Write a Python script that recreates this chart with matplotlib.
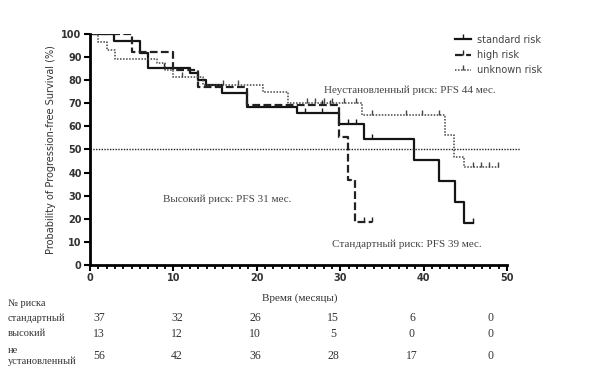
import matplotlib.pyplot as plt
from matplotlib.ticker import MultipleLocator
from matplotlib.lines import Line2D

# step curves (months, % PFS)
std_t = [0, 2.9, 6.0, 6.9, 12.0, 12.9, 13.9, 15.8, 18.8, 24.8, 29.8, 32.8, 38.8, 41.8, 43.8, 44.8, 45.9]
std_y = [100, 97.1, 91.6, 85.4, 83.0, 80.0, 78.0, 74.6, 68.5, 65.7, 61.0, 54.7, 45.5, 36.4, 27.3, 18.3, 18.3]
high_t = [0, 5.0, 9.9, 12.9, 18.8, 29.8, 30.9, 31.8, 33.8]
high_y = [100, 92.3, 84.6, 76.9, 69.2, 55.4, 36.9, 18.5, 18.5]
unk_t = [0, 0.9, 2.0, 3.0, 8.0, 9.0, 9.9, 13.5, 20.8, 23.8, 32.6, 42.6, 43.7, 44.8, 49.0]
unk_y = [100, 96.4, 92.9, 89.3, 87.6, 84.4, 81.2, 77.9, 75.0, 70.3, 65.0, 56.3, 46.9, 42.6, 42.6]

# censor marks
std_ct = [8.9, 25.8, 27.8, 30.9, 31.9, 33.8, 45.9]
std_cy = [85.4, 65.7, 65.7, 61.0, 61.0, 54.7, 18.3]
high_ct = [27.8, 28.8, 32.8, 33.8]
high_cy = [69.2, 69.2, 18.5, 18.5]
unk_ct = [11.0, 16.0, 17.8, 26.0, 27.0, 28.0, 29.0, 30.5, 31.9, 33.8, 37.9, 39.8, 41.9, 45.9, 46.9, 47.9, 48.9]
unk_cy = [81.2, 77.9, 77.9, 70.3, 70.3, 70.3, 70.3, 70.3, 70.3, 65.0, 65.0, 65.0, 65.0, 42.6, 42.6, 42.6, 42.6]

# numbers at risk
row_names = ["стандартный", "высокий", "не\nустановленный"]
risk_std = [37, 32, 26, 15, 6, 0]
risk_high = [13, 12, 10, 5, 0, 0]
risk_unk = [56, 42, 36, 28, 17, 0]

up_tick = [(0, 0), (0, 1)]

fig = plt.figure(figsize=(6.09, 3.76), dpi=100)
ax = fig.add_axes([0.1478, 0.2952, 0.6847, 0.6144])

styles = [
    ('standard risk', std_t, std_y, std_ct, std_cy, '#151515', 1.6, '-'),
    ('high risk', high_t, high_y, high_ct, high_cy, '#222222', 1.6, (0, (3.5, 1.5))),
    ('unknown risk', unk_t, unk_y, unk_ct, unk_cy, '#444444', 1.1, (0, (1, 1))),
]
handles = []
for name, t, y, ct, cy, col, lw, ls in styles:
    ax.step(t, y, where='post', color=col, lw=lw, ls=ls)
    ax.plot(ct, cy, ls='none', marker=up_tick, ms=7, mew=1.0, color=col)
    handles.append(Line2D([], [], color=col, lw=lw, ls=ls, marker=up_tick, ms=7, mew=1.0))

ax.plot([0, 51.6], [50, 50], color='#222222', lw=1.0, ls=(0, (1, 1)), clip_on=False)

ax.set_xlim(0, 50)
ax.set_ylim(0, 100)
ax.xaxis.set_major_locator(MultipleLocator(10))
ax.xaxis.set_minor_locator(MultipleLocator(1))
ax.yaxis.set_major_locator(MultipleLocator(10))
for s in ['top', 'right']:
    ax.spines[s].set_visible(False)
for s in ['left', 'bottom']:
    ax.spines[s].set_linewidth(2)
ax.tick_params(which='major', length=4, width=1.5, labelsize=7, pad=2)
ax.tick_params(which='minor', length=3, width=1.3)
for lab in ax.get_xticklabels() + ax.get_yticklabels():
    lab.set_fontweight('bold')
    lab.set_color('#333333')
ax.set_ylabel('Probability of Progression-free Survival (%)', fontsize=7, color='#333333', labelpad=4)

leg = ax.legend(handles, [s[0] for s in styles], loc='upper left', bbox_to_anchor=(0.855, 1.035),
                frameon=False, fontsize=7, handlelength=1.6, handletextpad=0.6, labelspacing=0.55)
for t in leg.get_texts():
    t.set_color('#444444')

serif = 'Liberation Serif'
ax.text(28, 75.5, 'Неустановленный риск: PFS 44 мес.', fontsize=8, family=serif, color='#444444', va='center')
ax.text(8.8, 28.5, 'Высокий риск: PFS 31 мес.', fontsize=8, family=serif, color='#444444', va='center')
ax.text(29, 9, 'Стандартный риск: PFS 39 мес.', fontsize=8, family=serif, color='#444444', va='center')

fig.text(300 / 609, 1 - 298 / 376, 'Время (месяцы)', fontsize=8, family=serif, color='#333333', ha='center', va='center')
fig.text(8 / 609, 1 - 303 / 376, '№ риска', fontsize=7.5, family=serif, color='#333333', va='center')
fig.text(8 / 609, 1 - 318 / 376, row_names[0], fontsize=7.5, family=serif, color='#333333', va='center')
fig.text(8 / 609, 1 - 334 / 376, row_names[1], fontsize=7.5, family=serif, color='#333333', va='center')
fig.text(8 / 609, 1 - 356 / 376, row_names[2], fontsize=7.5, family=serif, color='#333333', va='center',
         linespacing=1.2)

col_x = [99, 177, 255, 333, 412, 491]
for i in range(len(col_x)):
    fig.text(col_x[i] / 609, 1 - 318 / 376, str(risk_std[i]), fontsize=8.5, family=serif, color='#333333', ha='center', va='center')
    fig.text(col_x[i] / 609, 1 - 334 / 376, str(risk_high[i]), fontsize=8.5, family=serif, color='#333333', ha='center', va='center')
    fig.text(col_x[i] / 609, 1 - 356 / 376, str(risk_unk[i]), fontsize=8.5, family=serif, color='#333333', ha='center', va='center')

fig.savefig('out.png', dpi=100)
